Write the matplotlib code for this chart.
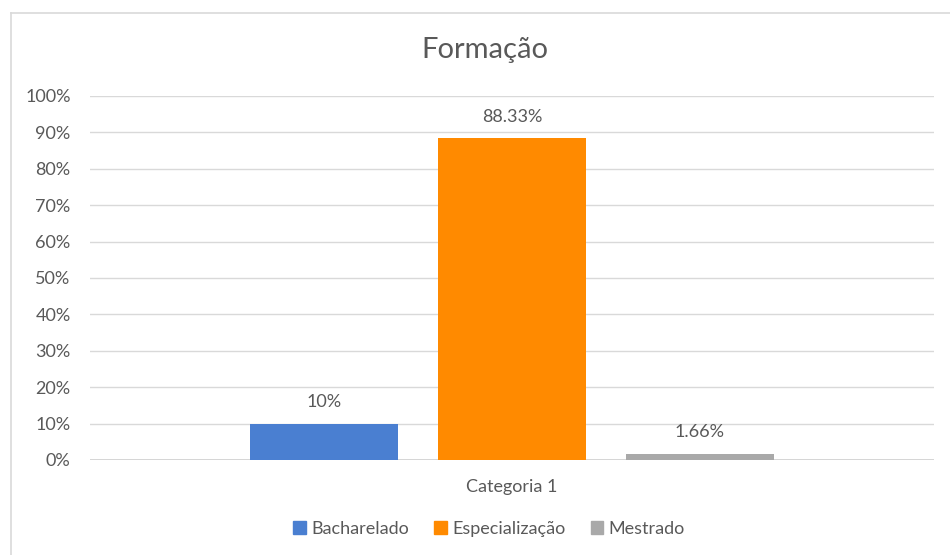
import matplotlib
matplotlib.use('Agg')
import matplotlib.pyplot as plt
import matplotlib.patches as mpatches
from matplotlib.lines import Line2D

# Data
series = ['Bacharelado', 'Especialização', 'Mestrado']
values = [10.0, 88.33, 1.66]
labels = ['10%', '88.33%', '1.66%']
category = 'Categoria 1'
colors = ['#4A7FD1', '#FF8A00', '#A9A9A9']
TXT = '#595959'

plt.rcParams['font.family'] = ['Lato', 'DejaVu Sans']

W, H = 950, 555
fig = plt.figure(figsize=(W / 100, H / 100), dpi=100)

# chart border
fig.add_artist(Line2D([11 / W, 11 / W], [0, 1 - 13 / H], transform=fig.transFigure,
                      color='#d9d9d9', lw=1.2))
fig.add_artist(Line2D([11 / W, 1], [1 - 13 / H, 1 - 13 / H], transform=fig.transFigure,
                      color='#d9d9d9', lw=1.2))

left, right, top, bottom = 90, 934, 96, 460
ax = fig.add_axes([left / W, 1 - bottom / H, (right - left) / W, (bottom - top) / H])

step = 188.0
width = 148 / step
half = (right - left) / step / 2
x = [0, 1, 2]
ax.bar(x, values, width=width, color=colors, zorder=3)
ax.set_xlim(1 - half, 1 + half)
ax.set_ylim(0, 100)

for xi, v, lab in zip(x, values, labels):
    ax.annotate(lab, (xi, v), xytext=(0, 10), textcoords='offset points',
                ha='center', va='bottom', fontsize=13, color=TXT)

ax.set_yticks(range(0, 101, 10))
ax.set_yticklabels([f'{t}%' for t in range(0, 101, 10)], fontsize=13, color=TXT)
ax.tick_params(axis='y', length=0, pad=14)
ax.set_xticks([])
ax.grid(axis='y', color='#d9d9d9', lw=1.0, zorder=0)
for s in ['top', 'right', 'left', 'bottom']:
    ax.spines[s].set_visible(False)
ax.axhline(0, color='#d0d0d0', lw=1.2, zorder=2)

fig.text(512 / W, 1 - 487 / H, category, ha='center', va='center', fontsize=13, color=TXT)
fig.text(485 / W, 1 - 50 / H, 'Formação', ha='center', va='center', fontsize=21, color=TXT)

handles = [mpatches.Patch(color=c, label=s) for c, s in zip(colors, series)]
fig.legend(handles=handles, loc='center', bbox_to_anchor=(489 / W, 1 - 529 / H),
           ncol=3, frameon=False, fontsize=13, labelcolor=TXT,
           handlelength=0.7, handleheight=0.7, handletextpad=0.3, columnspacing=1.4)

fig.savefig('out.png', dpi=100, facecolor='white')
